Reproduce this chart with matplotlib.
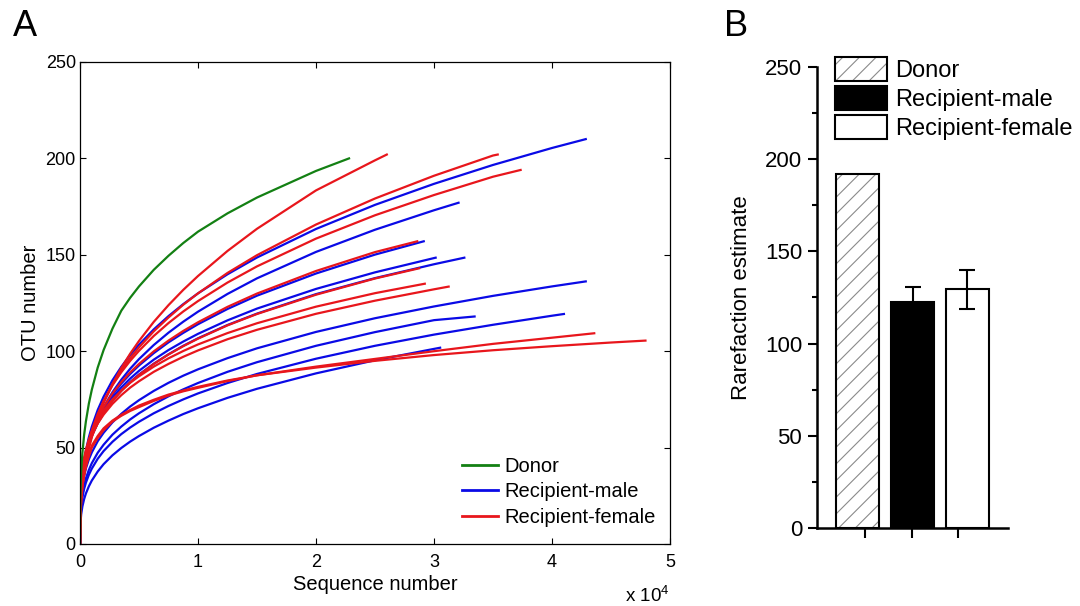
import matplotlib
matplotlib.use('Agg')
import matplotlib.pyplot as plt
import matplotlib.lines as mlines
import matplotlib.patches as mpatches
from matplotlib.ticker import MultipleLocator

plt.rcParams['font.family'] = ['Liberation Sans', 'DejaVu Sans']
plt.rcParams['hatch.linewidth'] = 0.8

# ---- panel A: rarefaction curves (sequence number vs OTU number) ----
seq_grid = [0, 25, 100, 200, 350, 500, 750, 1000, 1500, 2000, 2750, 3500, 4250, 5000,
            6250, 7500, 8750, 10000, 12500, 15000, 20000, 25000, 30000, 35000, 40000, 45000]

donor_end = (22800, 200)
donor_otu = [0, 23.7, 37.4, 47.0, 56.6, 63.6, 72.8, 80, 91.5, 100.6, 111.7, 121, 127.7, 133.6,
             142.2, 149.5, 156.1, 162, 171.5, 179.7, 193.5]

# recipient-male curves (blue)
male_ends = [(42860, 210), (32080, 177), (29130, 157), (30140, 148.5), (32570, 148.5),
             (42860, 136.2), (33440, 118), (41010, 119.3), (30520, 101.8)]
male_otu = [
    [0, 18.0, 28.4, 35.8, 43.0, 48.4, 55.3, 60.8, 69.5, 76.4, 84.9, 91.9, 98.0, 103.4,
     111.3, 118.2, 124.4, 130, 139.9, 148.6, 163.4, 175.9, 186.8, 196.6, 205.4],
    [0, 16.7, 26.4, 33.1, 39.9, 44.8, 51.3, 56.4, 64.4, 70.9, 78.7, 85.2, 90.9, 95.9,
     103.2, 109.6, 115.3, 120.5, 129.7, 137.8, 151.5, 163.0, 173.1],
    [0, 18.9, 28.6, 35.2, 41.7, 46.4, 52.4, 57.1, 64.5, 70.3, 77.4, 83.2, 88.2, 92.6,
     99.0, 104.6, 109.5, 114, 121.9, 128.8, 140.3, 150.1],
    [0, 20.4, 30.0, 36.5, 42.6, 47.1, 52.8, 57.2, 64.1, 69.5, 75.9, 81.2, 85.8, 89.8,
     95.6, 100.6, 105.0, 109, 116.0, 122.1, 132.3, 140.9, 148.3],
    [0, 19.9, 29.4, 35.7, 41.7, 46.1, 51.7, 56.0, 62.7, 68.0, 74.3, 79.5, 84.0, 87.9,
     93.5, 98.4, 102.8, 106.7, 113.6, 119.5, 129.6, 137.9, 145.1],
    [0, 16.9, 25.0, 30.3, 35.4, 39.2, 43.9, 47.5, 53.3, 57.7, 63.1, 67.5, 71.3, 74.6,
     79.4, 83.6, 87.3, 90.6, 96.4, 101.5, 110.0, 117.1, 123.2, 128.7, 133.6],
    [0, 13.8, 21.0, 25.8, 30.5, 34.0, 38.4, 41.9, 47.3, 51.5, 56.7, 60.9, 64.6, 67.8,
     72.5, 76.6, 80.2, 83.5, 89.3, 94.3, 102.8, 109.9, 116.1],
    [0, 12.9, 19.6, 24.1, 28.6, 31.8, 35.9, 39.1, 44.2, 48.2, 53.0, 57.0, 60.4, 63.4,
     67.8, 71.6, 75.0, 78.1, 83.5, 88.2, 96.1, 102.8, 108.6, 113.7, 118.4],
    [0, 9.8, 15.4, 19.4, 23.3, 26.2, 29.9, 32.9, 37.6, 41.4, 46.0, 49.8, 53.1, 56.0,
     60.3, 64.0, 67.4, 70.4, 75.8, 80.5, 88.5, 95.3, 101.2],
]

# recipient-female curves (red)
female_ends = [(26000, 202), (35400, 202), (37340, 194), (28580, 157), (28740, 143),
               (29220, 135), (31240, 133.5), (43580, 109.3), (47920, 105.5)]
female_otu = [
    [0, 12.6, 22.0, 29.1, 36.4, 41.9, 49.3, 55.3, 65.1, 73.0, 82.9, 91.3, 98.7, 105.3,
     115.2, 123.9, 131.8, 139, 152, 163.5, 183.4, 199],
    [0, 16.0, 25.9, 33.1, 40.2, 45.6, 52.5, 58.1, 66.9, 74.0, 82.7, 90.0, 96.4, 102.0,
     110.3, 117.5, 124.1, 130, 140.6, 149.8, 165.7, 179.2, 191.0, 201.5],
    [0, 17.5, 27.6, 34.7, 41.7, 46.9, 53.6, 58.9, 67.4, 74.1, 82.3, 89.1, 95.0, 100.2,
     107.9, 114.6, 120.6, 126, 135.6, 144.0, 158.4, 170.5, 181.0, 190.5],
    [0, 19.1, 28.9, 35.6, 42.1, 46.8, 52.9, 57.6, 65.1, 71.0, 78.1, 83.9, 89.0, 93.4,
     99.9, 105.5, 110.5, 115, 123.0, 129.9, 141.6, 151.4],
    [0, 19.9, 29.3, 35.6, 41.7, 46.0, 51.6, 55.9, 62.6, 67.9, 74.2, 79.4, 83.8, 87.7,
     93.4, 98.3, 102.6, 106.5, 113.4, 119.3, 129.3, 137.7],
    [0, 23.1, 32.7, 38.9, 44.8, 48.9, 54.2, 58.2, 64.4, 69.2, 75.0, 79.6, 83.6, 87.0,
     92.0, 96.3, 100.1, 103.5, 109.4, 114.5, 123.1, 130.1],
    [0, 22.4, 31.7, 37.8, 43.4, 47.5, 52.5, 56.5, 62.5, 67.1, 72.7, 77.2, 81.1, 84.4,
     89.3, 93.4, 97.1, 100.4, 106.2, 111.1, 119.4, 126.2, 132.1],
    [0, 13, 23, 30, 35.5, 40, 45.5, 50, 55, 59, 63.5, 66.5, 69, 71,
     74.2, 77, 79.2, 81, 84.5, 87.5, 92, 96, 100, 103.8, 107],
    [0, 13, 23, 30.5, 36, 41, 46.5, 51, 56, 60, 64, 67, 69.5, 71.8,
     74.8, 77.5, 79.6, 81.5, 84.8, 87.5, 91.5, 95, 98, 100.5, 102.6, 104.5],
]

# ---- panel B: rarefaction estimate bars ----
groups = ['Donor', 'Recipient-male', 'Recipient-female']
rare_mean = [192, 122.5, 129.5]
rare_err = [0, 8, 10.5]

green = '#138013'
blue = '#0a0ae6'
red = '#e8161c'


def curve_xy(otu, end):
    xs = seq_grid[:len(otu)] + [end[0]]
    ys = otu + [end[1]]
    return xs, ys


fig = plt.figure(figsize=(10.8, 6.06), dpi=100)
ax1 = fig.add_axes([80 / 1080, 1 - 544 / 606, 590 / 1080, 482 / 606])

for otu, end in zip(male_otu, male_ends):
    xs, ys = curve_xy(otu, end)
    ax1.plot(xs, ys, color=blue, lw=1.6)
for otu, end in zip(female_otu, female_ends):
    xs, ys = curve_xy(otu, end)
    ax1.plot(xs, ys, color=red, lw=1.6)
xs, ys = curve_xy(donor_otu, donor_end)
ax1.plot(xs, ys, color=green, lw=1.6)

ax1.set_xlim(0, 50000)
ax1.set_ylim(0, 250)
ax1.set_xticks([0, 10000, 20000, 30000, 40000, 50000])
ax1.set_xticklabels(['0', '1', '2', '3', '4', '5'])
ax1.set_yticks([0, 50, 100, 150, 200, 250])
ax1.tick_params(direction='in', top=True, right=True, length=4.5, width=0.8, labelsize=13)
ax1.tick_params(axis='x', pad=7)
ax1.tick_params(axis='y', pad=3)
for sp in ax1.spines.values():
    sp.set_linewidth(0.9)
ax1.set_xlabel('Sequence number', fontsize=14.5, labelpad=3)
ax1.set_ylabel('OTU number', fontsize=14.5, labelpad=4)
fig.text(670 / 1080, 1 - 596 / 606, r'x 10$^{\mathregular{4}}$', fontsize=13.5, ha='right', va='center')

h_donor = mlines.Line2D([], [], color=green, lw=2, label='Donor')
h_male = mlines.Line2D([], [], color=blue, lw=2, label='Recipient-male')
h_female = mlines.Line2D([], [], color=red, lw=2, label='Recipient-female')
ax1.legend(handles=[h_donor, h_male, h_female], loc='upper left', frameon=False,
           bbox_to_anchor=(462 / 1080, 1 - 457 / 606), bbox_transform=fig.transFigure,
           fontsize=14.5, handlelength=1.8, handletextpad=0.3, labelspacing=0.32, borderpad=0,
           borderaxespad=0)

fig.text(13 / 1080, 1 - 27 / 606, 'A', fontsize=26, va='center', ha='left')
fig.text(724 / 1080, 1 - 27 / 606, 'B', fontsize=26, va='center', ha='left')

# ---- panel B ----
ax2 = fig.add_axes([816.7 / 1080, 1 - 528.3 / 606, 191.6 / 1080, 461.6 / 606])
pos = [1, 2, 3]
bw = 0.78
ax2.bar(pos[0], rare_mean[0], width=bw, color='white', edgecolor='#8a8a8a', hatch='//', lw=0)
ax2.bar(pos[0], rare_mean[0], width=bw, fill=False, edgecolor='black', lw=1.5)
ax2.bar(pos[1], rare_mean[1], width=bw, color='black', edgecolor='black', lw=1.5)
ax2.bar(pos[2], rare_mean[2], width=bw, color='white', edgecolor='black', lw=1.5)
ax2.errorbar(pos[1:], rare_mean[1:], yerr=rare_err[1:], fmt='none', ecolor='black',
             elinewidth=1.5, capsize=6, capthick=1.5)

ax2.set_xlim(0.25, 3.75)
ax2.set_ylim(0, 250)
ax2.set_xticks([1.13, 1.99, 2.84])
ax2.set_xticklabels([])
ax2.set_yticks([0, 50, 100, 150, 200, 250])
ax2.yaxis.set_minor_locator(MultipleLocator(25))
ax2.spines['top'].set_visible(False)
ax2.spines['right'].set_visible(False)
ax2.spines['left'].set_linewidth(1.8)
ax2.spines['bottom'].set_linewidth(1.8)
ax2.tick_params(axis='y', which='major', direction='out', length=6.5, width=1.5, labelsize=16, pad=4)
ax2.tick_params(axis='y', which='minor', direction='out', length=3.5, width=1.5)
ax2.tick_params(axis='x', direction='out', length=7, width=1.5)
ax2.set_ylabel('Rarefaction estimate', fontsize=16, labelpad=9)

p_donor = (mpatches.Patch(facecolor='white', edgecolor='#8a8a8a', hatch='//', lw=0),
           mpatches.Patch(fill=False, edgecolor='black', lw=1.5))
p_male = mpatches.Patch(facecolor='black', edgecolor='black', lw=1.5)
p_female = mpatches.Patch(facecolor='white', edgecolor='black', lw=1.5)
ax2.legend([p_donor, p_male, p_female], groups, loc='upper left', frameon=False,
           bbox_to_anchor=(835 / 1080, 1 - 57 / 606), bbox_transform=fig.transFigure,
           fontsize=17, handlelength=2.2, handleheight=1.2, handletextpad=0.34,
           labelspacing=0.16, borderpad=0, borderaxespad=0)

fig.savefig('out.png', dpi=100)
